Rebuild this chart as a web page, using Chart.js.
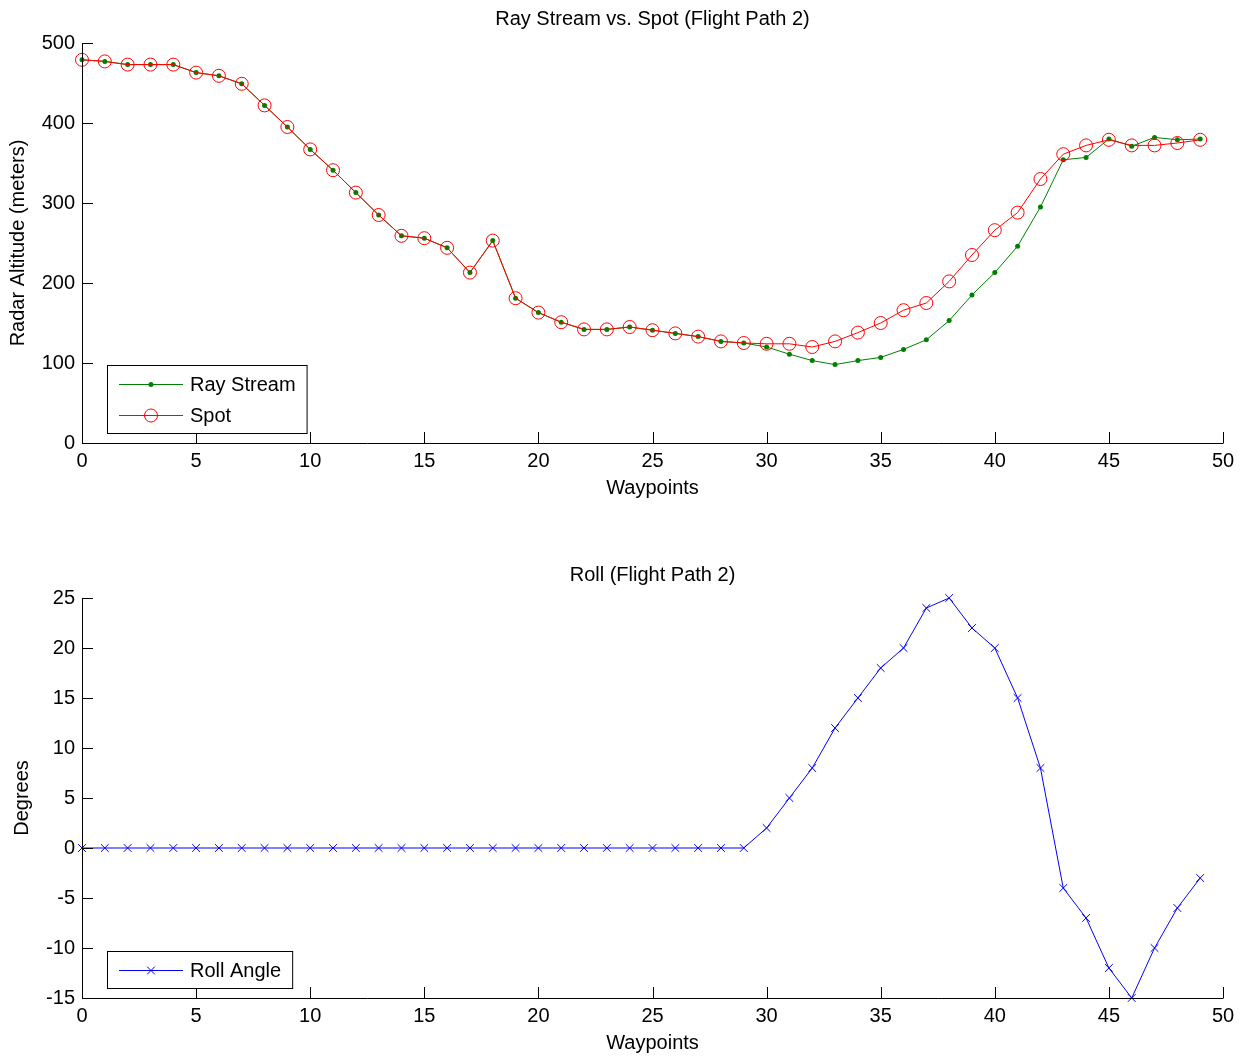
<!DOCTYPE html>
<html>
<head>
<meta charset="utf-8">
<script src="https://cdn.jsdelivr.net/npm/chart.js@4"></script>
<style>
  html, body { margin: 0; padding: 0; background: #fff; }
  canvas { display: block; }
</style>
</head>
<body>
<canvas id="altChart" width="1242" height="528"></canvas>
<canvas id="rollChart" width="1242" height="529"></canvas>
<script>
// values
const waypoints = [0, 1, 2, 3, 4, 5, 6, 7, 8, 9, 10, 11, 12, 13, 14, 15, 16, 17, 18, 19,
  20, 21, 22, 23, 24, 25, 26, 27, 28, 29, 30, 31, 32, 33, 34, 35, 36, 37, 38, 39,
  40, 41, 42, 43, 44, 45, 46, 47, 48, 49];

const rayStream = [479, 477, 473, 473, 473, 463, 459, 449, 422, 395, 367, 341, 313, 285, 259, 256, 244, 213, 253, 181,
  163, 151, 142, 142, 145, 141, 137, 133, 127, 125, 120, 111, 103, 98, 103, 107, 117, 129, 153, 185,
  213, 246, 295, 354, 357, 380, 371, 382, 379, 380];

const spot = [479, 477, 473, 473, 473, 463, 459, 449, 422, 395, 367, 341, 313, 285, 259, 256, 244, 213, 253, 181,
  163, 151, 142, 142, 145, 141, 137, 133, 127, 125, 124, 124, 120, 127, 138, 150, 166, 175, 202, 235,
  266, 288, 330, 361, 372, 379, 372, 372, 375, 379];

const rollAngle = [0, 0, 0, 0, 0, 0, 0, 0, 0, 0, 0, 0, 0, 0, 0, 0, 0, 0, 0, 0,
  0, 0, 0, 0, 0, 0, 0, 0, 0, 0, 2, 5, 8, 12, 15, 18, 20, 24, 25, 22,
  20, 15, 8, -4, -7, -12, -15, -10, -6, -3];

const xTicks = [0, 5, 10, 15, 20, 25, 30, 35, 40, 45, 50];
const altTicks = [0, 100, 200, 300, 400, 500];
const rollTicks = [-15, -10, -5, 0, 5, 10, 15, 20, 25];

const FONT = '"Liberation Sans", Arial, Helvetica, sans-serif';
const FONT_SIZE = 20;

const pts = ys => waypoints.map((w, i) => ({ x: w, y: ys[i] }));

// MATLAB-like axes: left + bottom lines, ticks pointing inward, titles, boxed legend
const matlabAxes = {
  id: 'matlabAxes',
  afterDraw(chart, args, opts) {
    const ctx = chart.ctx;
    const a = chart.chartArea;
    const xs = chart.scales.x, ys = chart.scales.y;
    const tl = 11;
    ctx.save();
    ctx.strokeStyle = '#000';
    ctx.lineWidth = 1;
    ctx.beginPath();
    ctx.moveTo(a.left + 0.5, a.top);
    ctx.lineTo(a.left + 0.5, a.bottom + 0.5);
    ctx.lineTo(a.right + 0.5, a.bottom + 0.5);
    for (const t of xs.ticks) {
      const px = Math.round(xs.getPixelForValue(t.value)) + 0.5;
      ctx.moveTo(px, a.bottom);
      ctx.lineTo(px, a.bottom - tl);
    }
    for (const t of ys.ticks) {
      const py = Math.round(ys.getPixelForValue(t.value)) + 0.5;
      ctx.moveTo(a.left, py);
      ctx.lineTo(a.left + tl, py);
    }
    ctx.stroke();

    // titles
    ctx.fillStyle = '#000';
    ctx.font = FONT_SIZE + 'px ' + FONT;
    ctx.textAlign = 'center';
    ctx.textBaseline = 'middle';
    const cx = (a.left + a.right) / 2;
    ctx.fillText(opts.title, cx, a.top - opts.titleGap);
    ctx.fillText(opts.xTitle, cx, a.bottom + 45);
    ctx.save();
    ctx.translate(opts.yTitleX, (a.top + a.bottom) / 2);
    ctx.rotate(-Math.PI / 2);
    ctx.fillText(opts.yTitle, 0, 0);
    ctx.restore();

    // legend box in lower left corner
    const sets = chart.data.datasets;
    const rowH = 31;
    let textW = 0;
    for (const d of sets) textW = Math.max(textW, ctx.measureText(d.label).width);
    const bx = a.left + 25;
    const bw = 83 + textW + 11;
    const bh = 6 + rowH * sets.length;
    const by = a.bottom - 10 - bh;
    ctx.fillStyle = '#fff';
    ctx.fillRect(bx, by, bw, bh);
    ctx.strokeStyle = '#000';
    ctx.strokeRect(bx + 0.5, by + 0.5, bw, bh);
    sets.forEach((d, i) => {
      const ry = Math.round(by + 3 + rowH / 2 + rowH * i) + 0.5;
      ctx.strokeStyle = d.borderColor;
      ctx.lineWidth = d.borderWidth;
      ctx.beginPath();
      ctx.moveTo(bx + 12, ry);
      ctx.lineTo(bx + 76, ry);
      ctx.stroke();
      ctx.fillStyle = d.pointBackgroundColor;
      ctx.strokeStyle = d.pointBorderColor;
      Chart.helpers.drawPoint(ctx, {
        pointStyle: d.pointStyle, radius: d.pointRadius,
        borderWidth: d.pointBorderWidth, rotation: 0
      }, bx + 44, ry);
      ctx.fillStyle = '#000';
      ctx.textAlign = 'left';
      ctx.fillText(d.label, bx + 83, ry + 1);
    });
    ctx.restore();
  }
};

function makeOptions(yTicks, plotTop, plotBottom, canvasH, titles) {
  return {
    responsive: false,
    animation: false,
    devicePixelRatio: 1,
    layout: { padding: { left: 0, right: 19, top: plotTop, bottom: 0 } },
    plugins: {
      legend: { display: false },
      tooltip: { enabled: false },
      matlabAxes: titles
    },
    scales: {
      x: {
        type: 'linear',
        min: xTicks[0], max: xTicks[xTicks.length - 1],
        afterBuildTicks: s => { s.ticks = xTicks.map(v => ({ value: v })); },
        afterFit: s => { s.height = canvasH - plotBottom; },
        grid: { display: false, drawTicks: false },
        border: { display: false },
        ticks: { color: '#000', padding: 6, maxRotation: 0, font: { family: FONT, size: FONT_SIZE } }
      },
      y: {
        type: 'linear',
        min: yTicks[0], max: yTicks[yTicks.length - 1],
        afterBuildTicks: s => { s.ticks = yTicks.map(v => ({ value: v })); },
        afterFit: s => { s.width = 82; },
        grid: { display: false, drawTicks: false },
        border: { display: false },
        ticks: { color: '#000', padding: 7, font: { family: FONT, size: FONT_SIZE } }
      }
    }
  };
}

new Chart(document.getElementById('altChart'), {
  type: 'line',
  data: {
    datasets: [
      {
        label: 'Ray Stream', data: pts(rayStream), order: 1,
        borderColor: '#008000', borderWidth: 1,
        pointStyle: 'circle', pointRadius: 2.5, pointBorderWidth: 0,
        pointBackgroundColor: '#008000', pointBorderColor: '#008000',
        clip: false, tension: 0
      },
      {
        label: 'Spot', data: pts(spot), order: 0,
        borderColor: '#ff0000', borderWidth: 1,
        pointStyle: 'circle', pointRadius: 6.5, pointBorderWidth: 1,
        pointBackgroundColor: 'rgba(0,0,0,0)', pointBorderColor: '#ff0000',
        clip: false, tension: 0
      }
    ]
  },
  options: makeOptions(altTicks, 43, 443, 528, {
    title: 'Ray Stream vs. Spot (Flight Path 2)', titleGap: 24,
    xTitle: 'Waypoints', yTitle: 'Radar Altitude (meters)', yTitleX: 18
  }),
  plugins: [matlabAxes]
});

new Chart(document.getElementById('rollChart'), {
  type: 'line',
  data: {
    datasets: [
      {
        label: 'Roll Angle', data: pts(rollAngle),
        borderColor: '#0000ff', borderWidth: 1,
        pointStyle: 'crossRot', pointRadius: 5.5, pointBorderWidth: 1,
        pointBackgroundColor: '#0000ff', pointBorderColor: '#0000ff',
        clip: false, tension: 0
      }
    ]
  },
  options: makeOptions(rollTicks, 70, 470, 529, {
    title: 'Roll (Flight Path 2)', titleGap: 23,
    xTitle: 'Waypoints', yTitle: 'Degrees', yTitleX: 22
  }),
  plugins: [matlabAxes]
});
</script>
</body>
</html>
